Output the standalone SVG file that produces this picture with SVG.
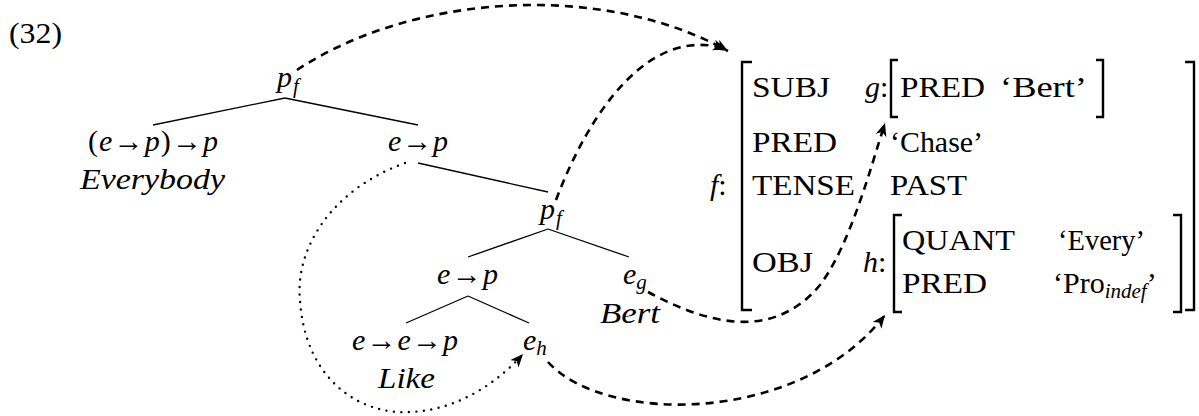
<svg xmlns="http://www.w3.org/2000/svg" width="1199" height="416" viewBox="0 0 1199 416" font-family="'Liberation Serif', 'Times New Roman', Times, 'DejaVu Serif', serif">
<style>
text{font-family:'Liberation Serif','Times New Roman',Times,'DejaVu Serif',serif;font-size:30px;fill:#000}
.it{font-style:italic}
.sub{font-style:italic;font-size:21px}
.edge{stroke:#000;stroke-width:1.3;fill:none}
.br{stroke:#000;stroke-width:2.4;fill:none}
.dash{stroke:#000;stroke-width:2.6;fill:none;stroke-dasharray:8 6}
.dot{stroke:#000;stroke-width:2.4;fill:none;stroke-dasharray:0 7.5;stroke-linecap:round}
</style>
<defs>
<marker id="ah" markerUnits="userSpaceOnUse" markerWidth="14" markerHeight="12" refX="13" refY="5.5" orient="auto">
<path d="M0,0 L13,5.5 L0,11 L3.5,5.5 z" fill="#000" stroke="none"/>
</marker>
</defs>
<text x="9" y="43" textLength="53" lengthAdjust="spacingAndGlyphs">(32)</text>
<g id="connectors">
<line class="edge" x1="285" y1="98" x2="153" y2="125"/>
<line class="edge" x1="285" y1="98" x2="418" y2="125"/>
<line class="edge" x1="418" y1="163" x2="548" y2="192"/>
<line class="edge" x1="548" y1="229" x2="468" y2="257"/>
<line class="edge" x1="548" y1="229" x2="629" y2="257"/>
<line class="edge" x1="468" y1="296" x2="406" y2="323"/>
<line class="edge" x1="468" y1="296" x2="529" y2="323"/>
<path class="dash" d="M297,70 C410,-5 600,-20 728,51" marker-end="url(#ah)"/>
<path class="dash" d="M556,200 C590,110 650,25 726,49" marker-end="url(#ah)"/>
<path class="dash" d="M648,292 C700,320 770,345 820,285 C850,245 870,170 885,123" marker-end="url(#ah)"/>
<path class="dash" d="M548,362 C605,425 800,425 885,315" marker-end="url(#ah)"/>
<path class="dot" d="M405,163 C330,190 295,250 300,300 C305,380 360,415 410,412 C460,410 500,380 523,354" marker-end="url(#ah)"/>
</g>
<g id="n-root"><text x="277" y="87"><tspan class="it">p</tspan><tspan class="sub" dx="1" dy="6">f</tspan></text></g>
<g id="n-everybody">
<text x="88" y="151" textLength="130" lengthAdjust="spacing">(<tspan class="it">e</tspan>→<tspan class="it">p</tspan>)→<tspan class="it">p</tspan></text>
<text class="it" x="80" y="189" textLength="145" lengthAdjust="spacingAndGlyphs">Everybody</text>
</g>
<g id="n-ep1"><text x="388" y="151" textLength="60" lengthAdjust="spacing"><tspan class="it">e</tspan>→<tspan class="it">p</tspan></text></g>
<g id="n-pf2"><text x="540" y="219"><tspan class="it">p</tspan><tspan class="sub" dx="1" dy="6">f</tspan></text></g>
<g id="n-ep2"><text x="437" y="284" textLength="61" lengthAdjust="spacing"><tspan class="it">e</tspan>→<tspan class="it">p</tspan></text></g>
<g id="n-eg">
<text x="623" y="284"><tspan class="it">e</tspan><tspan class="sub" dy="5">g</tspan></text>
<text class="it" x="600" y="323" textLength="60" lengthAdjust="spacingAndGlyphs">Bert</text>
</g>
<g id="n-like">
<text x="352" y="350" textLength="106" lengthAdjust="spacing"><tspan class="it">e</tspan>→<tspan class="it">e</tspan>→<tspan class="it">p</tspan></text>
<text class="it" x="378" y="388" textLength="57" lengthAdjust="spacingAndGlyphs">Like</text>
</g>
<g id="n-eh"><text x="523" y="350"><tspan class="it">e</tspan><tspan class="sub" dy="5">h</tspan></text></g>
<g id="fstruct">
<text class="it" x="710" y="195">f<tspan font-style="normal">:</tspan></text>
<path class="br" d="M752,62 H742 V310 H752"/>
<path class="br" d="M1185,62 H1194 V310 H1185"/>
<text x="752" y="97" textLength="78" lengthAdjust="spacingAndGlyphs">SUBJ</text>
<text class="it" x="865" y="97">g<tspan font-style="normal">:</tspan></text>
<path class="br" d="M898,60 H891 V117 H898"/>
<path class="br" d="M1096,60 H1103 V117 H1096"/>
<text x="900" y="97" textLength="85" lengthAdjust="spacingAndGlyphs">PRED</text>
<text x="1000" y="97" textLength="87" lengthAdjust="spacingAndGlyphs">‘Bert’</text>
<text x="752" y="152" textLength="85" lengthAdjust="spacingAndGlyphs">PRED</text>
<text x="890" y="152" textLength="93" lengthAdjust="spacingAndGlyphs">‘Chase’</text>
<text x="752" y="195" textLength="103" lengthAdjust="spacingAndGlyphs">TENSE</text>
<text x="890" y="195" textLength="77" lengthAdjust="spacingAndGlyphs">PAST</text>
<text x="752" y="272" textLength="61" lengthAdjust="spacingAndGlyphs">OBJ</text>
<text class="it" x="863" y="272">h<tspan font-style="normal">:</tspan></text>
<path class="br" d="M902,215 H894 V312 H902"/>
<path class="br" d="M1173,215 H1181 V312 H1173"/>
<text x="902" y="250" textLength="113" lengthAdjust="spacingAndGlyphs">QUANT</text>
<text x="1058" y="250" textLength="87" lengthAdjust="spacingAndGlyphs">‘Every’</text>
<text x="902" y="293" textLength="85" lengthAdjust="spacingAndGlyphs">PRED</text>
<text x="1053" y="293">‘Pro<tspan class="sub" dy="5">indef</tspan><tspan dy="-5">’</tspan></text>
</g>
</svg>
